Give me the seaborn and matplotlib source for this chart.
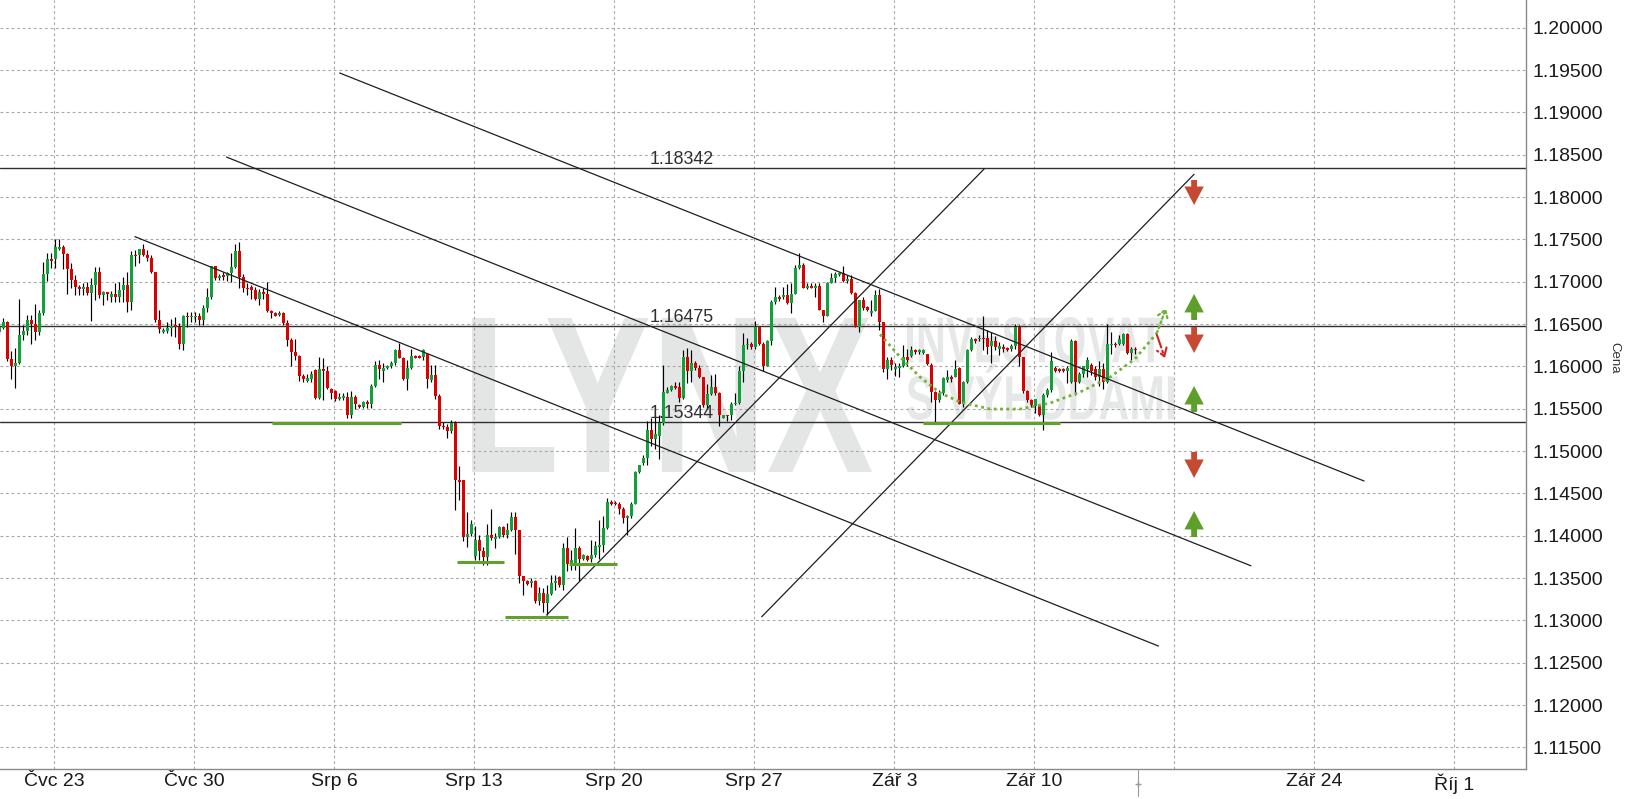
import numpy as np
import pandas as pd
import matplotlib
matplotlib.use("Agg")
import matplotlib.pyplot as plt
import seaborn as sns
from matplotlib.textpath import TextPath
from matplotlib.patches import PathPatch, FancyArrowPatch
from matplotlib.font_manager import FontProperties
from matplotlib.transforms import Affine2D
from matplotlib.lines import Line2D

# ---------------- data (EUR/USD 4h candles) ----------------
first_bar = -1

opens = [
    1.1641, 1.1645, 1.1652, 1.1609, 1.1601, 1.1604, 1.1637, 1.1642, 1.1655, 1.1650,
    1.1641, 1.1663, 1.1709, 1.1727, 1.1727, 1.1739, 1.1741, 1.1733, 1.1715, 1.1702,
    1.1694, 1.1691, 1.1694, 1.1687, 1.1696, 1.1712, 1.1684, 1.1688, 1.1682, 1.1686,
    1.1682, 1.1690, 1.1696, 1.1676, 1.1732, 1.1732, 1.1739, 1.1732, 1.1728, 1.1711,
    1.1655, 1.1641, 1.1642, 1.1645, 1.1649, 1.1647, 1.1627, 1.1660, 1.1658, 1.1658,
    1.1660, 1.1655, 1.1669, 1.1682, 1.1718, 1.1704, 1.1708, 1.1707, 1.1710, 1.1717,
    1.1736, 1.1706, 1.1693, 1.1694, 1.1690, 1.1680, 1.1688, 1.1686, 1.1665, 1.1663,
    1.1661, 1.1663, 1.1651, 1.1631, 1.1617, 1.1612, 1.1589, 1.1583, 1.1585, 1.1596,
    1.1563, 1.1597, 1.1595, 1.1573, 1.1571, 1.1562, 1.1563, 1.1564, 1.1543, 1.1564,
    1.1554, 1.1552, 1.1558, 1.1556, 1.1577, 1.1602, 1.1595, 1.1598, 1.1600, 1.1604,
    1.1619, 1.1610, 1.1585, 1.1598, 1.1612, 1.1612, 1.1611, 1.1615, 1.1584, 1.1590,
    1.1565, 1.1530, 1.1528, 1.1524, 1.1533, 1.1466, 1.1466, 1.1398, 1.1402, 1.1376,
    1.1395, 1.1382, 1.1375, 1.1401, 1.1396, 1.1398, 1.1410, 1.1401, 1.1407, 1.1422,
    1.1407, 1.1352, 1.1346, 1.1344, 1.1347, 1.1323, 1.1332, 1.1321, 1.1331, 1.1344,
    1.1351, 1.1342, 1.1386, 1.1367, 1.1367, 1.1386, 1.1372, 1.1376, 1.1372, 1.1377,
    1.1387, 1.1389, 1.1409, 1.1440, 1.1439, 1.1437, 1.1432, 1.1421, 1.1423, 1.1438,
    1.1475, 1.1486, 1.1492, 1.1525, 1.1514, 1.1518, 1.1533, 1.1569, 1.1572, 1.1577,
    1.1576, 1.1563, 1.1611, 1.1594, 1.1604, 1.1598, 1.1587, 1.1554, 1.1567, 1.1576,
    1.1568, 1.1539, 1.1543, 1.1543, 1.1555, 1.1557, 1.1594, 1.1625, 1.1627, 1.1623,
    1.1646, 1.1626, 1.1600, 1.1630, 1.1676, 1.1682, 1.1682, 1.1684, 1.1675, 1.1686,
    1.1716, 1.1720, 1.1693, 1.1695, 1.1693, 1.1695, 1.1667, 1.1660, 1.1699, 1.1704,
    1.1708, 1.1710, 1.1701, 1.1703, 1.1687, 1.1647, 1.1678, 1.1670, 1.1663, 1.1665,
    1.1684, 1.1652, 1.1597, 1.1608, 1.1597, 1.1598, 1.1600, 1.1611, 1.1612, 1.1619,
    1.1617, 1.1616, 1.1615, 1.1602, 1.1570, 1.1560, 1.1568, 1.1584, 1.1588, 1.1588,
    1.1598, 1.1556, 1.1581, 1.1619, 1.1632, 1.1632, 1.1634, 1.1633, 1.1624, 1.1630,
    1.1621, 1.1623, 1.1622, 1.1620, 1.1624, 1.1647, 1.1611, 1.1571, 1.1560, 1.1553,
    1.1554, 1.1543, 1.1566, 1.1572, 1.1598, 1.1597, 1.1597, 1.1594, 1.1582, 1.1630,
    1.1582, 1.1591, 1.1597, 1.1602, 1.1597, 1.1588, 1.1597, 1.1582, 1.1625, 1.1627,
    1.1627, 1.1626, 1.1638, 1.1616, 1.1621,
]

highs = [
    1.1651, 1.1657, 1.1654, 1.1618, 1.1622, 1.1680, 1.1649, 1.1661, 1.1661, 1.1674,
    1.1667, 1.1723, 1.1734, 1.1734, 1.1750, 1.1750, 1.1743, 1.1734, 1.1722, 1.1708,
    1.1696, 1.1698, 1.1700, 1.1704, 1.1717, 1.1717, 1.1689, 1.1688, 1.1689, 1.1698,
    1.1700, 1.1706, 1.1712, 1.1736, 1.1737, 1.1739, 1.1745, 1.1737, 1.1732, 1.1712,
    1.1667, 1.1645, 1.1653, 1.1656, 1.1658, 1.1651, 1.1661, 1.1664, 1.1664, 1.1664,
    1.1663, 1.1673, 1.1692, 1.1719, 1.1719, 1.1709, 1.1712, 1.1712, 1.1734, 1.1744,
    1.1747, 1.1709, 1.1698, 1.1696, 1.1694, 1.1691, 1.1692, 1.1700, 1.1667, 1.1664,
    1.1665, 1.1664, 1.1655, 1.1633, 1.1632, 1.1613, 1.1591, 1.1591, 1.1595, 1.1597,
    1.1611, 1.1610, 1.1600, 1.1574, 1.1572, 1.1568, 1.1568, 1.1570, 1.1571, 1.1566,
    1.1556, 1.1559, 1.1560, 1.1579, 1.1606, 1.1608, 1.1604, 1.1602, 1.1606, 1.1621,
    1.1628, 1.1611, 1.1608, 1.1621, 1.1613, 1.1613, 1.1621, 1.1615, 1.1602, 1.1602,
    1.1567, 1.1534, 1.1532, 1.1537, 1.1535, 1.1482, 1.1466, 1.1428, 1.1418, 1.1411,
    1.1401, 1.1387, 1.1414, 1.1432, 1.1403, 1.1411, 1.1411, 1.1415, 1.1428, 1.1428,
    1.1407, 1.1352, 1.1348, 1.1350, 1.1348, 1.1340, 1.1338, 1.1342, 1.1354, 1.1354,
    1.1352, 1.1391, 1.1399, 1.1383, 1.1409, 1.1388, 1.1379, 1.1377, 1.1395, 1.1394,
    1.1419, 1.1423, 1.1444, 1.1442, 1.1441, 1.1440, 1.1434, 1.1424, 1.1440, 1.1476,
    1.1484, 1.1495, 1.1535, 1.1539, 1.1541, 1.1543, 1.1602, 1.1576, 1.1578, 1.1582,
    1.1582, 1.1619, 1.1622, 1.1619, 1.1606, 1.1602, 1.1588, 1.1579, 1.1590, 1.1591,
    1.1570, 1.1543, 1.1543, 1.1558, 1.1569, 1.1600, 1.1640, 1.1633, 1.1629, 1.1654,
    1.1647, 1.1629, 1.1631, 1.1678, 1.1694, 1.1684, 1.1694, 1.1697, 1.1698, 1.1720,
    1.1734, 1.1722, 1.1699, 1.1698, 1.1698, 1.1698, 1.1667, 1.1700, 1.1710, 1.1712,
    1.1712, 1.1719, 1.1708, 1.1708, 1.1688, 1.1678, 1.1682, 1.1671, 1.1678, 1.1690,
    1.1691, 1.1652, 1.1611, 1.1611, 1.1604, 1.1604, 1.1625, 1.1620, 1.1624, 1.1621,
    1.1621, 1.1620, 1.1615, 1.1604, 1.1571, 1.1572, 1.1588, 1.1596, 1.1590, 1.1608,
    1.1599, 1.1583, 1.1621, 1.1635, 1.1634, 1.1637, 1.1659, 1.1643, 1.1641, 1.1636,
    1.1629, 1.1627, 1.1623, 1.1626, 1.1650, 1.1649, 1.1611, 1.1572, 1.1561, 1.1562,
    1.1556, 1.1568, 1.1575, 1.1617, 1.1600, 1.1598, 1.1598, 1.1600, 1.1632, 1.1631,
    1.1593, 1.1600, 1.1611, 1.1604, 1.1600, 1.1606, 1.1604, 1.1650, 1.1641, 1.1629,
    1.1637, 1.1640, 1.1640, 1.1623, 1.1623,
]

lows = [
    1.1637, 1.1644, 1.1606, 1.1585, 1.1575, 1.1603, 1.1631, 1.1637, 1.1626, 1.1631,
    1.1637, 1.1661, 1.1701, 1.1716, 1.1716, 1.1738, 1.1715, 1.1686, 1.1692, 1.1684,
    1.1684, 1.1684, 1.1684, 1.1654, 1.1678, 1.1681, 1.1673, 1.1678, 1.1676, 1.1676,
    1.1676, 1.1676, 1.1664, 1.1667, 1.1718, 1.1722, 1.1730, 1.1724, 1.1710, 1.1653,
    1.1640, 1.1639, 1.1639, 1.1636, 1.1635, 1.1621, 1.1619, 1.1647, 1.1653, 1.1653,
    1.1649, 1.1649, 1.1664, 1.1680, 1.1702, 1.1702, 1.1702, 1.1701, 1.1700, 1.1716,
    1.1692, 1.1688, 1.1684, 1.1680, 1.1678, 1.1673, 1.1680, 1.1664, 1.1657, 1.1659,
    1.1660, 1.1649, 1.1624, 1.1601, 1.1608, 1.1583, 1.1582, 1.1582, 1.1582, 1.1562,
    1.1562, 1.1560, 1.1573, 1.1562, 1.1559, 1.1560, 1.1560, 1.1539, 1.1539, 1.1550,
    1.1551, 1.1551, 1.1551, 1.1551, 1.1576, 1.1585, 1.1582, 1.1597, 1.1598, 1.1602,
    1.1610, 1.1584, 1.1572, 1.1597, 1.1610, 1.1610, 1.1608, 1.1575, 1.1582, 1.1561,
    1.1526, 1.1526, 1.1516, 1.1521, 1.1430, 1.1442, 1.1394, 1.1387, 1.1400, 1.1371,
    1.1371, 1.1365, 1.1365, 1.1395, 1.1385, 1.1397, 1.1399, 1.1397, 1.1405, 1.1379,
    1.1344, 1.1330, 1.1342, 1.1340, 1.1320, 1.1318, 1.1310, 1.1306, 1.1330, 1.1336,
    1.1340, 1.1336, 1.1358, 1.1360, 1.1360, 1.1347, 1.1371, 1.1370, 1.1369, 1.1375,
    1.1373, 1.1381, 1.1408, 1.1436, 1.1436, 1.1426, 1.1415, 1.1401, 1.1421, 1.1437,
    1.1474, 1.1484, 1.1484, 1.1506, 1.1503, 1.1491, 1.1531, 1.1568, 1.1571, 1.1573,
    1.1558, 1.1562, 1.1580, 1.1582, 1.1596, 1.1586, 1.1552, 1.1550, 1.1566, 1.1566,
    1.1529, 1.1539, 1.1535, 1.1537, 1.1554, 1.1556, 1.1582, 1.1621, 1.1621, 1.1621,
    1.1625, 1.1595, 1.1600, 1.1625, 1.1674, 1.1677, 1.1680, 1.1674, 1.1663, 1.1686,
    1.1715, 1.1692, 1.1691, 1.1692, 1.1682, 1.1667, 1.1652, 1.1659, 1.1698, 1.1700,
    1.1707, 1.1700, 1.1699, 1.1686, 1.1646, 1.1641, 1.1667, 1.1665, 1.1660, 1.1665,
    1.1643, 1.1593, 1.1585, 1.1596, 1.1589, 1.1588, 1.1599, 1.1600, 1.1611, 1.1615,
    1.1615, 1.1615, 1.1602, 1.1558, 1.1533, 1.1558, 1.1566, 1.1582, 1.1582, 1.1587,
    1.1556, 1.1552, 1.1580, 1.1618, 1.1628, 1.1630, 1.1619, 1.1615, 1.1604, 1.1619,
    1.1613, 1.1617, 1.1618, 1.1618, 1.1621, 1.1600, 1.1568, 1.1558, 1.1552, 1.1545,
    1.1541, 1.1525, 1.1564, 1.1570, 1.1593, 1.1593, 1.1593, 1.1580, 1.1580, 1.1566,
    1.1580, 1.1588, 1.1588, 1.1590, 1.1584, 1.1577, 1.1573, 1.1580, 1.1615, 1.1623,
    1.1625, 1.1625, 1.1615, 1.1608, 1.1615,
]

closes = [
    1.1647, 1.1652, 1.1609, 1.1601, 1.1604, 1.1637, 1.1642, 1.1655, 1.1650, 1.1641,
    1.1663, 1.1709, 1.1727, 1.1724, 1.1741, 1.1741, 1.1733, 1.1715, 1.1702, 1.1694,
    1.1691, 1.1694, 1.1687, 1.1696, 1.1712, 1.1684, 1.1688, 1.1686, 1.1686, 1.1682,
    1.1690, 1.1696, 1.1676, 1.1732, 1.1730, 1.1739, 1.1732, 1.1728, 1.1711, 1.1655,
    1.1644, 1.1643, 1.1645, 1.1648, 1.1647, 1.1627, 1.1660, 1.1658, 1.1660, 1.1660,
    1.1655, 1.1669, 1.1682, 1.1718, 1.1704, 1.1707, 1.1706, 1.1710, 1.1717, 1.1736,
    1.1706, 1.1693, 1.1691, 1.1690, 1.1680, 1.1688, 1.1686, 1.1665, 1.1663, 1.1660,
    1.1663, 1.1651, 1.1631, 1.1617, 1.1612, 1.1589, 1.1585, 1.1586, 1.1591, 1.1563,
    1.1597, 1.1595, 1.1574, 1.1568, 1.1562, 1.1564, 1.1565, 1.1543, 1.1564, 1.1555,
    1.1552, 1.1558, 1.1556, 1.1577, 1.1602, 1.1597, 1.1598, 1.1600, 1.1604, 1.1619,
    1.1610, 1.1585, 1.1598, 1.1612, 1.1610, 1.1610, 1.1619, 1.1585, 1.1590, 1.1565,
    1.1530, 1.1528, 1.1524, 1.1533, 1.1466, 1.1464, 1.1398, 1.1402, 1.1414, 1.1395,
    1.1382, 1.1375, 1.1401, 1.1397, 1.1398, 1.1410, 1.1401, 1.1407, 1.1422, 1.1407,
    1.1352, 1.1346, 1.1343, 1.1347, 1.1323, 1.1332, 1.1321, 1.1331, 1.1344, 1.1346,
    1.1342, 1.1386, 1.1367, 1.1371, 1.1386, 1.1373, 1.1377, 1.1371, 1.1377, 1.1388,
    1.1389, 1.1409, 1.1440, 1.1438, 1.1437, 1.1432, 1.1421, 1.1423, 1.1438, 1.1475,
    1.1483, 1.1492, 1.1525, 1.1514, 1.1520, 1.1533, 1.1570, 1.1572, 1.1577, 1.1575,
    1.1563, 1.1611, 1.1594, 1.1604, 1.1598, 1.1587, 1.1554, 1.1567, 1.1576, 1.1568,
    1.1542, 1.1542, 1.1541, 1.1555, 1.1557, 1.1594, 1.1625, 1.1627, 1.1623, 1.1646,
    1.1626, 1.1600, 1.1630, 1.1676, 1.1682, 1.1679, 1.1684, 1.1675, 1.1686, 1.1716,
    1.1720, 1.1693, 1.1695, 1.1693, 1.1695, 1.1667, 1.1660, 1.1699, 1.1704, 1.1709,
    1.1710, 1.1701, 1.1703, 1.1687, 1.1647, 1.1678, 1.1669, 1.1666, 1.1665, 1.1684,
    1.1652, 1.1597, 1.1608, 1.1602, 1.1599, 1.1600, 1.1611, 1.1608, 1.1619, 1.1617,
    1.1619, 1.1619, 1.1603, 1.1570, 1.1560, 1.1568, 1.1586, 1.1587, 1.1585, 1.1597,
    1.1556, 1.1581, 1.1619, 1.1632, 1.1630, 1.1634, 1.1632, 1.1623, 1.1630, 1.1623,
    1.1624, 1.1620, 1.1619, 1.1624, 1.1647, 1.1611, 1.1571, 1.1560, 1.1554, 1.1561,
    1.1543, 1.1566, 1.1572, 1.1606, 1.1594, 1.1594, 1.1594, 1.1598, 1.1630, 1.1582,
    1.1591, 1.1600, 1.1607, 1.1594, 1.1587, 1.1597, 1.1582, 1.1627, 1.1627, 1.1625,
    1.1632, 1.1638, 1.1616, 1.1621, 1.1619,
]

y_ticks = [1.115, 1.120, 1.125, 1.130, 1.135, 1.140, 1.145, 1.150, 1.155,
           1.160, 1.165, 1.170, 1.175, 1.180, 1.185, 1.190, 1.195, 1.200]
x_tick_pos = [12.75, 47.75, 82.75, 117.75, 152.75, 187.75, 222.75, 257.75,
              292.75, 327.75, 362.75]
x_tick_labels = ["Čvc 23", "Čvc 30", "Srp 6", "Srp 13", "Srp 20", "Srp 27",
                 "Zář 3", "Zář 10", "", "Zář 24", "Říj 1"]

levels = [1.18342, 1.16475, 1.15344]
level_label_x = 169.6

# trend lines: (bar0, price0, bar1, price1)
trend_lines = [
    (84.1, 1.19465, 340.2, 1.14646),
    (55.8, 1.18472, 311.9, 1.13645),
    (32.9, 1.17532, 288.8, 1.12697),
    (135.85, 1.13064, 245.2, 1.18331),
    (189.6, 1.13043, 297.7, 1.18269),
]
# green support marks: (bar0, bar1, price)
support_marks = [
    (67.2, 99.4, 1.15330),
    (113.4, 125.25, 1.13686),
    (125.4, 141.25, 1.13036),
    (141.5, 153.35, 1.13666),
    (230.0, 264.2, 1.15335),
]
# dotted "rounding bottom" path
arc_bar = [219.2, 224.2, 229.2, 234.2, 239.2, 246.7, 254.2, 261.7, 269.2, 276.7, 282.9, 288.4]
arc_price = [1.16379, 1.16111, 1.15874, 1.15686, 1.15579, 1.15496, 1.15496, 1.15567,
             1.15697, 1.15874, 1.16087, 1.16394]
arc_tip = (290.7, 1.16689)
red_scenario = ((288.4, 1.16371), (290.4, 1.16099))
# block arrows: (bar, tail price, tip price, colour)
RED_A, GREEN_A = "#c64a33", "#5e9f2c"
block_arrows = [
    (297.7, 1.18201, 1.17906, RED_A),
    (297.7, 1.16548, 1.16855, GREEN_A),
    (297.7, 1.16465, 1.16158, RED_A),
    (297.7, 1.15461, 1.15768, GREEN_A),
    (297.7, 1.14989, 1.14682, RED_A),
    (297.7, 1.13985, 1.14292, GREEN_A),
]

# ---------------- figure ----------------
sns.set_theme(style="white")
plt.rcParams["font.family"] = ["Liberation Sans", "DejaVu Sans"]

W, H = 1629, 799
AX_W, AX_H = 1526, 769
fig = plt.figure(figsize=(W / 100, H / 100), dpi=100)
fig.patch.set_facecolor("white")
ax = fig.add_axes([0, (H - AX_H) / H, AX_W / W, AX_H / H])
ax.set_facecolor("white")
ax.set_xlim(-0.825, 380.675)
ax.set_ylim(1.11245, 1.20327)


def watermark(text, box, color, weight="bold"):
    x0, y0, x1, y1 = box
    fp = FontProperties(family="Liberation Sans", weight=weight)
    tp = TextPath((0, 0), text, size=100, prop=fp)
    ext = tp.get_extents()
    tx0, tx1 = x0 / AX_W, x1 / AX_W
    ty0, ty1 = 1 - y1 / AX_H, 1 - y0 / AX_H
    tr = (Affine2D().translate(-ext.x0, -ext.y0)
          .scale((tx1 - tx0) / ext.width, (ty1 - ty0) / ext.height)
          .translate(tx0, ty0) + ax.transAxes)
    ax.add_patch(PathPatch(tp, transform=tr, facecolor=color, lw=0, zorder=0.2))


watermark("LYNX", (472, 318, 872, 472), "#e4e6e5")
watermark("INVESTOVAT", (907, 317, 1163, 363), "#e6e8e7")
watermark("S VÝHODAMI", (907, 364, 1174, 420), "#e6e8e7")

# grid / axes
ax.set_yticks(y_ticks)
ax.set_yticklabels([f"{v:.5f}" for v in y_ticks])
ax.yaxis.tick_right()
ax.set_xticks(x_tick_pos)
ax.set_xticklabels(x_tick_labels)
ax.tick_params(axis="both", length=0, labelsize=14, colors="#1a1a1a")
ax.tick_params(axis="y", pad=5)
ax.tick_params(axis="x", pad=3)
ax.set_axisbelow(True)
ax.grid(True, color="#a8a8a8", linestyle=(0, (2.5, 2.5)), linewidth=0.8)
for s in ["top", "left"]:
    ax.spines[s].set_visible(False)
for s in ["right", "bottom"]:
    ax.spines[s].set_color("#8a8a8a")
    ax.spines[s].set_linewidth(1.0)

# candles
bars = np.arange(first_bar, first_bar + len(opens))
df = pd.DataFrame({"bar": bars, "open": opens, "high": highs, "low": lows, "close": closes})
up = df["close"] >= df["open"]
ax.vlines(df["bar"], df["low"], df["high"], color="black", lw=0.85, zorder=3)
body_lo = np.minimum(df["open"], df["close"])
body_h = np.maximum((df["close"] - df["open"]).abs(), 0.00017)
ax.bar(df["bar"], body_h, bottom=body_lo, width=0.8,
       color=np.where(up, "#12a03c", "#dc0000"), linewidth=0, zorder=4)

# horizontal levels
for lv in levels:
    ax.axhline(lv, color="#303030", lw=1.0, zorder=2.5)
    ax.annotate(f"{lv:.5f}", xy=(level_label_x, lv), xytext=(0, 3),
                textcoords="offset points", ha="center", va="baseline",
                fontsize=12.8, color="#303030", zorder=7)

# trend lines (seaborn)
tl = pd.DataFrame(
    [(i, b, p) for i, (b0, p0, b1, p1) in enumerate(trend_lines) for b, p in ((b0, p0), (b1, p1))],
    columns=["line", "bar", "price"])
sns.lineplot(data=tl, x="bar", y="price", units="line", estimator=None, sort=False,
             color="#1e1e1e", lw=0.9, ax=ax, legend=False, zorder=5)

# green support marks
for b0, b1, p in support_marks:
    ax.hlines(p, b0, b1, color="#5fa12c", lw=2.2, zorder=5.5)

# dotted arc
arc_col = "#72b23a"
sns.lineplot(x=arc_bar, y=arc_price, sort=False, estimator=None, color=arc_col,
             lw=2.0, linestyle=(0, (1, 1.3)), ax=ax, legend=False, zorder=6)
ax.annotate("", xy=arc_tip, xytext=(arc_bar[-1], arc_price[-1]),
            arrowprops=dict(arrowstyle="->,head_length=0.45,head_width=0.3", color=arc_col,
                            lw=1.6, linestyle=(0, (1, 1.3)), shrinkA=0, shrinkB=0), zorder=6)
ax.annotate("", xy=red_scenario[1], xytext=red_scenario[0],
            arrowprops=dict(arrowstyle="->,head_length=0.45,head_width=0.3", color="#d42020",
                            lw=1.5, linestyle="-.", shrinkA=0, shrinkB=0), zorder=6)

# block arrows
for b, p0, p1, col in block_arrows:
    ax.add_patch(FancyArrowPatch((b, p0), (b, p1),
                                 arrowstyle="simple,head_length=0.95,head_width=1.0,tail_width=0.3",
                                 mutation_scale=14, color=col, lw=0, shrinkA=0, shrinkB=0, zorder=6))

# no axis titles (seaborn sets them)
ax.set_xlabel("")
ax.set_ylabel("")

# small "now" marker on the time axis
fig.add_artist(Line2D([1137.6 / W] * 2, [1 - 769 / H, 1 - 796 / H], color="#9a9a9a",
                      lw=0.8, transform=fig.transFigure))
fig.add_artist(Line2D([1137.6 / W], [1 - 784 / H], marker="+", ms=4, color="#9a9a9a",
                      transform=fig.transFigure))

fig.text(1614 / W, 1 - 358 / H, "Cena", rotation=270, ha="center", va="center",
         fontsize=9.5, color="#333333")

fig.savefig("out.png", dpi=100)
